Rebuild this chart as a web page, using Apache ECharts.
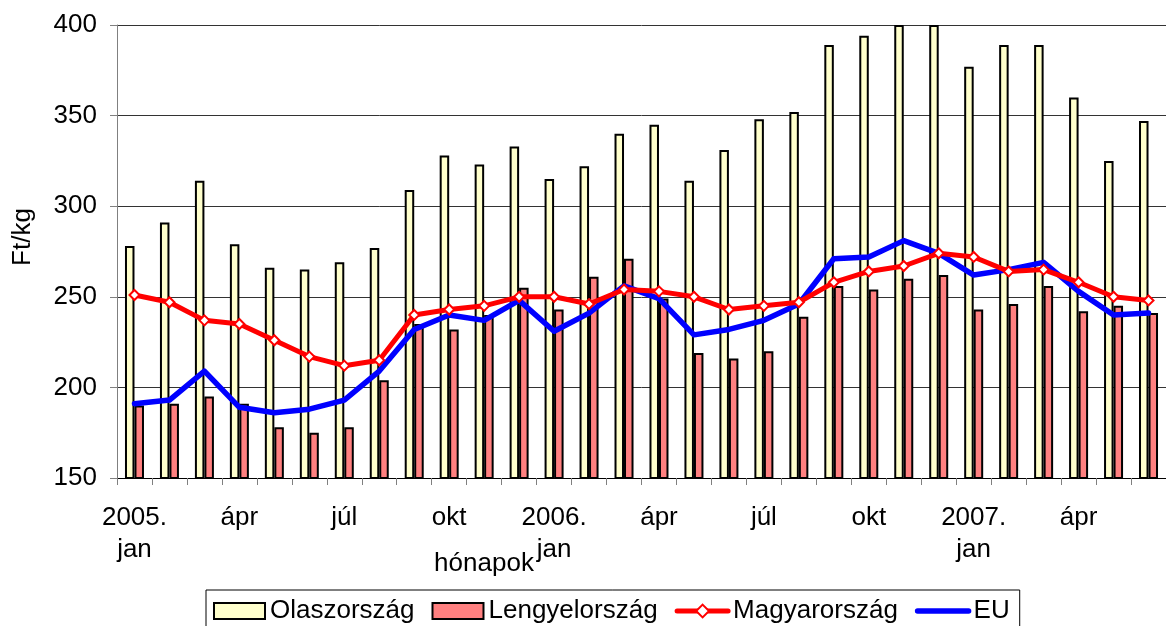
<!DOCTYPE html>
<html>
<head>
<meta charset="utf-8">
<script src="https://cdn.jsdelivr.net/npm/echarts@6/dist/echarts.min.js"></script>
<style>
html,body{margin:0;padding:0;background:#fff;}
#c{width:1166px;height:626px;}
</style>
</head>
<body>
<div id="c"></div>
<script>
const categories = [
  '2005.\njan','febr','márc','ápr','máj','jún','júl','aug','szept','okt','nov','dec',
  '2006.\njan','febr','márc','ápr','máj','jún','júl','aug','szept','okt','nov','dec',
  '2007.\njan','febr','márc','ápr','máj','jún'
];
const olaszorszag = [278,291,314,279,266,265,269,277,309,328,323,333,315,322,340,345,314,331,348,352,389,394,400,400,377,389,389,360,325,347];
const lengyelorszag = [190,191,195,191,178,175,178,204,235,232,240,255,243,261,271,249,219,216,220,239,256,254,260,262,243,246,256,242,245,241];
const magyarorszag = [251,247,237,235,226,217,212,215,240,243,245,250,250,246,254,253,250,243,245,247,258,264,267,274,272,264,265,258,250,248];
const eu = [191,193,209,189,186,188,193,209,232,240,237,248,231,241,256,249,229,232,237,246,271,272,281,274,262,265,269,253,240,241];
const yTicks = {min:150, max:400, interval:50};
const seriesNames = ['Olaszország','Lengyelország','Magyarország','EU'];
const axisNames = {x:'hónapok', y:'Ft/kg'};

const FONT = "'Liberation Sans', Arial, sans-serif";
const chart = echarts.init(document.getElementById('c'), null, {renderer:'canvas'});
chart.setOption({
  backgroundColor:'#fff',
  animation:false,
  textStyle:{fontFamily:FONT},
  grid:{left:117, top:25, width:1055, height:453, containLabel:false},
  legend:{
    data:[
      {name:seriesNames[0], icon:'rect', itemStyle:{borderColor:'#000', borderWidth:2}},
      {name:seriesNames[1], icon:'rect', itemStyle:{borderColor:'#000', borderWidth:2}},
      {name:seriesNames[2]},
      {name:seriesNames[3], itemStyle:{opacity:0}}
    ],
    left:206, top:590,
    orient:'horizontal',
    itemWidth:51, itemHeight:16, itemGap:17,
    padding:[8,10,8,7],
    borderColor:'#000', borderWidth:1,
    lineStyle:{width:'inherit', cap:'round'},
    textStyle:{fontFamily:FONT, fontSize:26, color:'#000'}
  },
  xAxis:{
    type:'category',
    data:categories,
    boundaryGap:true,
    axisLine:{show:true, lineStyle:{color:'#000', width:1}},
    axisTick:{show:true, interval:0, length:7, lineStyle:{color:'#808080'}},
    axisLabel:{interval:2, margin:24, fontFamily:FONT, fontSize:26, lineHeight:32, color:'#000'},
    splitLine:{show:false}
  },
  yAxis:{
    type:'value',
    min:yTicks.min, max:yTicks.max, interval:yTicks.interval,
    axisLine:{show:true, lineStyle:{color:'#808080', width:1}},
    axisTick:{show:true, length:7, lineStyle:{color:'#808080'}},
    axisLabel:{margin:20, fontFamily:FONT, fontSize:26, color:'#000'},
    splitLine:{show:true, lineStyle:{color:'#333', width:1}}
  },
  graphic:[
    {type:'text', x:23, y:237, rotation:Math.PI/2,
     style:{text:axisNames.y, font:"26px "+FONT, fill:'#000', align:'center', verticalAlign:'middle'}},
    {type:'text', x:484, y:564,
     style:{text:axisNames.x, font:"26px "+FONT, fill:'#000', align:'center', verticalAlign:'middle'}}
  ],
  series:[
    {name:seriesNames[0], type:'bar', data:olaszorszag, barWidth:9.5, barGap:'0%',
     itemStyle:{color:'#FFFFCC', borderColor:'#000', borderWidth:2}, z:1},
    {name:seriesNames[1], type:'bar', data:lengyelorszag, barWidth:9.5, barGap:'0%',
     itemStyle:{color:'#FF8080', borderColor:'#000', borderWidth:2}, z:1},
    {name:seriesNames[2], type:'line', data:magyarorszag, z:4,
     symbol:'diamond', symbolSize:10, showAllSymbol:true,
     lineStyle:{color:'#FF0000', width:5, cap:'round', join:'round'},
     itemStyle:{color:'#FFFFFF', borderColor:'#FF0000', borderWidth:2}},
    {name:seriesNames[3], type:'line', data:eu, z:3,
     symbol:'none',
     lineStyle:{color:'#0000FF', width:5.5, cap:'round', join:'round'},
     itemStyle:{color:'#0000FF'}}
  ]
});
</script>
</body>
</html>
